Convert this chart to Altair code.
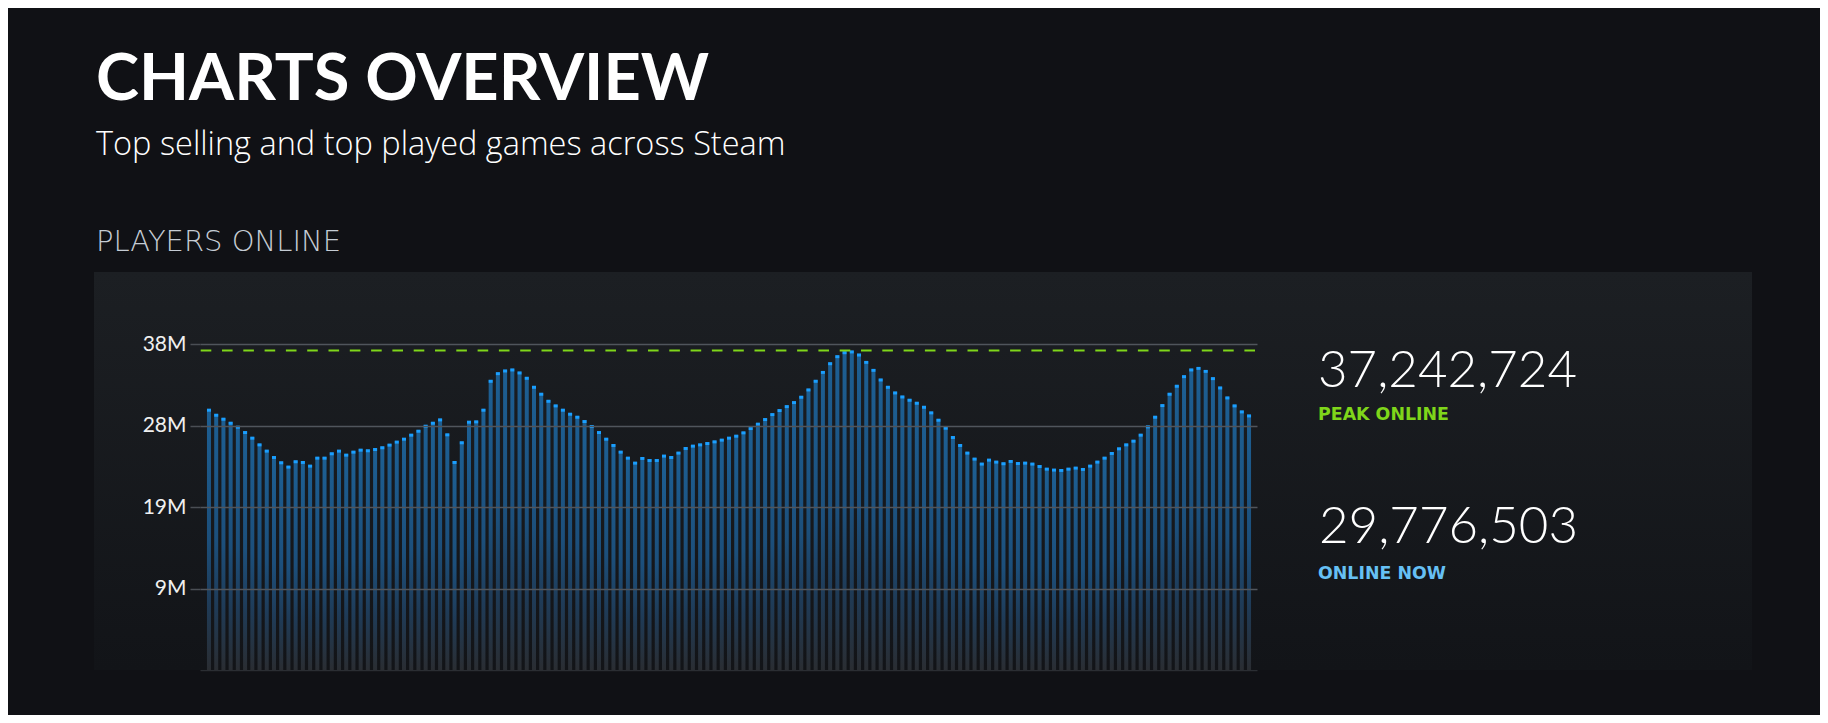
import altair as alt
import pandas as pd

# Players online (millions), one bar per 30 minutes
players_m = [
    30.45, 29.86, 29.40, 28.93, 28.47, 27.85, 27.19, 26.41, 25.68, 24.94,
    24.32, 23.82, 24.44, 24.36, 23.93, 24.86, 24.86, 25.37, 25.68, 25.21,
    25.56, 25.79, 25.72, 25.87, 26.07, 26.38, 26.73, 27.07, 27.54, 28.00,
    28.58, 28.93, 29.32, 27.58, 24.36, 26.65, 29.05, 29.09, 30.45, 33.82,
    34.71, 35.02, 35.14, 34.79, 34.17, 33.12, 32.31, 31.49, 30.95, 30.45,
    29.98, 29.63, 29.13, 28.55, 27.85, 27.07, 26.34, 25.56, 24.86, 24.28,
    24.83, 24.59, 24.59, 25.10, 24.94, 25.45, 25.99, 26.26, 26.41, 26.57,
    26.76, 26.96, 27.19, 27.42, 27.81, 28.31, 28.82, 29.36, 29.94, 30.41,
    30.87, 31.34, 31.96, 32.81, 33.82, 34.86, 35.87, 36.69, 37.15, 37.24,
    36.88, 36.03, 35.10, 33.97, 33.12, 32.46, 31.99, 31.61, 31.26, 30.79,
    30.14, 29.28, 28.35, 27.27, 26.34, 25.45, 24.75, 24.17, 24.63, 24.40,
    24.21, 24.48, 24.24, 24.28, 24.17, 23.89, 23.58, 23.47, 23.43, 23.58,
    23.70, 23.55, 23.93, 24.40, 24.86, 25.41, 25.95, 26.41, 26.84, 27.54,
    28.51, 29.63, 30.99, 32.31, 33.24, 34.36, 35.14, 35.33, 34.98, 34.13,
    33.04, 31.88, 30.95, 30.25, 29.78,
]
peak_online = 37242724
online_now = 29776503
tick_values = [9.5, 19, 28.5, 38]

title_text = "CHARTS OVERVIEW"
subtitle_text = "Top selling and top played games across Steam"
section_text = "PLAYERS ONLINE"
peak_label = "PEAK ONLINE"
now_label = "ONLINE NOW"

W, H = 1057, 326

df = pd.DataFrame({"i": list(range(len(players_m))), "v": players_m})

xs = alt.Scale(domain=[-0.55, 144.41], nice=False, zero=False)
ys = alt.Scale(domain=[0, 38], nice=False)

base = alt.Chart(df)

panel = alt.Chart(alt.Data(values=[{"k": 1}])).mark_rect(
    color=alt.Gradient(
        gradient="linear",
        stops=[alt.GradientStop(color="#1c1f23", offset=0),
               alt.GradientStop(color="#121418", offset=1)],
        x1=0, x2=0, y1=0, y2=1,
    )
).encode(x=alt.value(-106), x2=alt.value(1552), y=alt.value(-72), y2=alt.value(326))

bars = base.mark_bar(
    size=4,
    color=alt.Gradient(
        gradient="linear",
        stops=[alt.GradientStop(color="#1d5f93", offset=0),
               alt.GradientStop(color="#1c4f7b", offset=0.5),
               alt.GradientStop(color="#1f3b57", offset=0.75),
               alt.GradientStop(color="#2a2d32", offset=1)],
        x1=0, x2=0, y1=0, y2=1,
    ),
).encode(
    x=alt.X("i:Q", scale=xs, axis=alt.Axis(labels=False, ticks=False, grid=False,
                                           domain=True, domainColor="#2b2e33",
                                           domainWidth=1.5, title=None)),
    y=alt.Y("v:Q", scale=ys, axis=alt.Axis(
        values=tick_values, labelExpr="floor(datum.value) + 'M'",
        grid=True, gridColor="#50555c", gridWidth=1.5, domain=False,
        tickSize=10, tickColor="#4a4e54", tickWidth=1.5,
        labelFont="Lato", labelFontSize=21, labelColor="#f0f0f0",
        labelPadding=4, title=None, zindex=1)),
    y2=alt.datum(0),
)

caps = base.transform_calculate(lo="datum.v - 0.34").mark_bar(
    size=4, color="#1a9fff"
).encode(x=alt.X("i:Q", scale=xs), y=alt.Y("v:Q", scale=ys), y2="lo:Q")

peak_rule = alt.Chart(alt.Data(values=[{"p": peak_online / 1e6}])).mark_rule(
    color="#7fd61a", strokeWidth=2, strokeDash=[10.6, 10.7]
).encode(y=alt.Y("p:Q", scale=ys), x=alt.value(0.7), x2=alt.value(W))


def label(txt, x, y, size, color, weight="normal", font="Lato"):
    return alt.Chart(alt.Data(values=[{"t": txt}])).mark_text(
        align="left", baseline="alphabetic", font=font, fontSize=size,
        fontWeight=weight, color=color
    ).encode(text="t:N", x=alt.value(x), y=alt.value(y))


texts = [
    label(title_text, -104, -244, 65, "#ffffff", "bold"),
    label(subtitle_text, -104, -189, 32.5, "#ffffff", 300, "Open Sans"),
    label(section_text, -104, -93.3, 29, "#c5ccd4", 300, "DejaVu Sans"),
    label(f"{peak_online:,}", 1118, 42.7, 51, "#ffffff", 300),
    label(peak_label, 1118, 76, 17.4, "#7fd61a", "bold", "DejaVu Sans"),
    label(f"{online_now:,}", 1119, 199, 51, "#ffffff", 300),
    label(now_label, 1118, 235, 17.4, "#66c0f4", "bold", "DejaVu Sans"),
]

chart = alt.layer(panel, bars, caps, peak_rule, *texts).properties(
    width=W, height=H,
    padding={"left": 192, "top": 336, "right": 563, "bottom": 45},
    autosize=alt.AutoSizeParams(type="none"),
    background="#101115",
).configure_view(stroke=None)

chart.save("out.html", embed_options={"renderer": "svg", "actions": False})
